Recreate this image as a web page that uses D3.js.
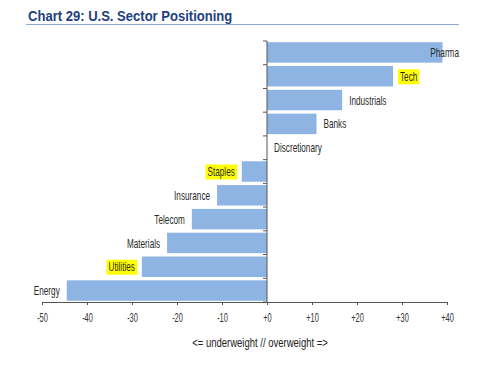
<!DOCTYPE html>
<html><head><meta charset="utf-8">
<script src="https://cdn.jsdelivr.net/npm/d3@7"></script>
<style>body{margin:0;background:#fff}svg{display:block}</style>
</head><body>
<script>
const categories = ["Pharma","Tech","Industrials","Banks","Discretionary","Staples","Insurance","Telecom","Materials","Utilities","Energy"];
const values = [39, 28, 16.7, 11, 0, -5.6, -11.1, -16.7, -22.2, -27.8, -44.5];
const highlighted = ["Tech","Staples","Utilities"];
const tickValues = [-50,-40,-30,-20,-10,0,10,20,30,40];
const tickLabels = ["-50","-40","-30","-20","-10","+0","+10","+20","+30","+40"];
const title = "Chart 29: U.S. Sector Positioning";
const xTitle = "<= underweight // overweight =>";

const W = 499, H = 385;
const svg = d3.select("body").append("svg").attr("width", W).attr("height", H);
const font = "'Liberation Sans','Arial',sans-serif";

// condensed text helper
function ctext(g, tx, ty, str, size, sx, anchor, opts = {}) {
  const t = g.append("text").attr("transform", `translate(${tx},${ty}) scale(${sx},1)`)
    .attr("text-anchor", anchor).attr("font-family", font).attr("font-size", size)
    .attr("fill", opts.fill || "#333").attr("font-weight", opts.weight || "normal")
    .attr("dy", opts.dy || null).text(str);
  return t;
}

ctext(svg, 28, 21, title, 14.5, 0.9, "start", {fill: "#1f3f7f", weight: "bold"});
svg.append("line").attr("x1", 26).attr("x2", 459).attr("y1", 24.5).attr("y2", 24.5)
  .attr("stroke", "#8eaad6").attr("stroke-width", 1.2);

const x = d3.scaleLinear().domain([-50, 40]).range([42, 447]);
const y = d3.scaleBand().domain(categories).range([41, 302]).paddingInner(0.14).paddingOuter(0.05);

svg.append("g").selectAll("rect").data(categories).join("rect")
  .attr("x", (d,i) => x(Math.min(0, values[i])))
  .attr("width", (d,i) => Math.abs(x(values[i]) - x(0)))
  .attr("y", d => y(d)).attr("height", y.bandwidth())
  .attr("fill", "#8db4e3");

// y axis
const yAxis = svg.append("g");
yAxis.append("line").attr("x1", x(0)).attr("x2", x(0)).attr("y1", 41).attr("y2", 302).attr("stroke", "#555");
yAxis.selectAll("line.t").data(d3.range(categories.length + 1)).join("line").attr("class","t")
  .attr("x1", x(0) - 4).attr("x2", x(0))
  .attr("y1", i => 41 + i * (261 / categories.length)).attr("y2", i => 41 + i * (261 / categories.length))
  .attr("stroke", "#555");

// x axis
const xAxis = svg.append("g").attr("transform", "translate(0,302)")
  .call(d3.axisBottom(x).tickValues(tickValues).tickFormat(() => "").tickSizeInner(3).tickSizeOuter(0));
xAxis.select(".domain").attr("stroke", "#555");
xAxis.selectAll(".tick line").attr("stroke", "#555");
xAxis.selectAll(".tick").each(function(d, i) {
  ctext(d3.select(this), 0, 20, tickLabels[i], 12, 0.62, "middle");
});

// labels
const lg = svg.append("g");
categories.forEach((c, i) => {
  const v = values[i];
  const cy = y(c) + y.bandwidth() / 2;
  let tx, anchor;
  if (v >= 0) { tx = x(v) + 7; anchor = "start"; }
  else { tx = x(v) - 7; anchor = "end"; }
  if (c === "Pharma") { tx = 459; anchor = "end"; }
  const sx = 0.63;
  const t = ctext(lg, tx, cy, c, 13, sx, anchor, {dy: "0.35em", fill: "#2a2a2a"});
  if (highlighted.includes(c)) {
    const bb = t.node().getBBox();
    const w = bb.width * sx;
    const bx = tx + bb.x * sx;
    lg.insert("rect", "text").attr("x", bx - 2).attr("y", cy - 7)
      .attr("width", w + 4).attr("height", 15).attr("fill", "#ffff00");
  }
});

ctext(svg, 260, 347, xTitle, 12.5, 0.76, "middle", {fill: "#222"});
</script>
</body></html>
